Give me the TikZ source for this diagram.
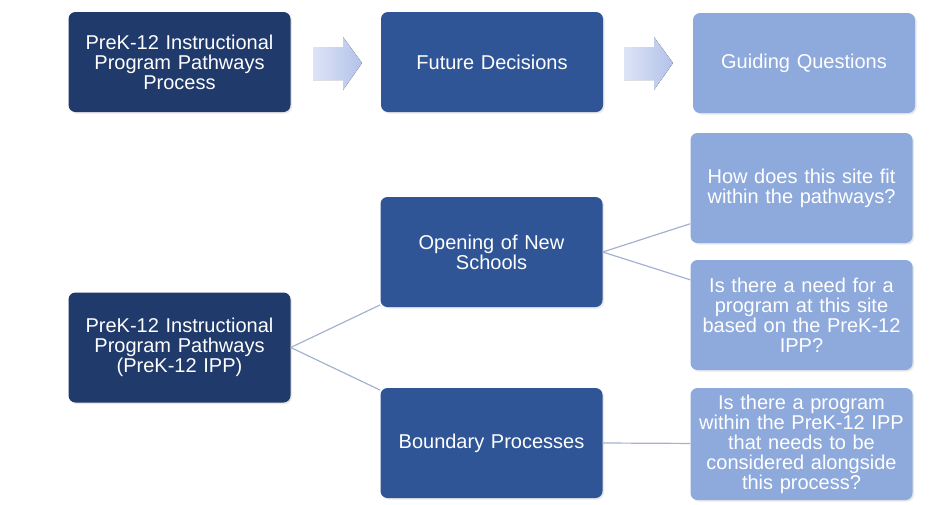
\documentclass[tikz,border=0pt]{standalone}
\usepackage{fontspec}
\setmainfont{Liberation Sans}
\usepackage{tikz}
\usetikzlibrary{shadows}
\definecolor{navy}{HTML}{1F3A6B}
\definecolor{midblue}{HTML}{2F5597}
\definecolor{paleblue}{HTML}{8EA9DB}
\definecolor{linkgray}{HTML}{A3B2D0}
\definecolor{arrowlight}{HTML}{DDE4F6}
\definecolor{arrowdark}{HTML}{B3C2EA}
\tikzset{box/.style={rounded corners=7pt,minimum width=222pt,minimum height=100pt,
  text width=215pt,align=center,text=white,inner sep=0pt,
  font=\fontsize{20}{20}\selectfont,
  drop shadow={opacity=0.18,shadow xshift=1.5pt,shadow yshift=-1.5pt}}}
\tikzset{d/.style={box,fill=navy}}
\tikzset{b/.style={box,fill=midblue}}
\tikzset{p/.style={box,fill=paleblue}}
\tikzset{link/.style={draw=linkgray,line width=1.2pt}}
\tikzset{blk/.style={left color=arrowlight,right color=arrowdark}}

\begin{document}
\begin{tikzpicture}[x=1pt,y=-1pt]
          \useasboundingbox (0,0) rectangle (938,504);
          \node[d] (proc) at (179.5,62) {PreK-12 Instructional\\Program Pathways\\Process};
          \node[b] (future) at (492,62) {Future Decisions};
          \node[p] (guide) at (804,63) {Guiding Questions};
          \fill[blk] (313,47)--(343,47)--(343,37)--(362,63)--(343,90)--(343,80)--(313,80)--cycle;
          \fill[blk] (624,47)--(654,47)--(654,37)--(673,63)--(654,90)--(654,80)--(624,80)--cycle;
          \node[d,minimum height=110pt] (ipp) at (179.5,347.5) {PreK-12 Instructional\\Program Pathways\\(PreK-12 IPP)};
          \node[b,minimum height=110pt] (open) at (491.5,252) {Opening of New\\Schools}
            edge [link] (ipp.east);
          \node[b,minimum height=110pt] (bound) at (491.5,443) {Boundary Processes}
            edge [link] (ipp.east);
          \node[p,minimum height=110pt] (q1) at (801.5,188) {How does this site fit\\within the pathways?}
            edge [link] (open.east);
          \node[p,minimum height=110pt] (q2) at (801.5,315) {Is there a need for a\\program at this site\\based on the PreK-12\\IPP?}
            edge [link] (open.east);
          \node[p,minimum height=112pt] (q3) at (801.5,444) {Is there a program\\within the PreK-12 IPP\\that needs to be\\considered alongside\\this process?}
            edge [link] (bound.east);
        \end{tikzpicture}
\end{document}
